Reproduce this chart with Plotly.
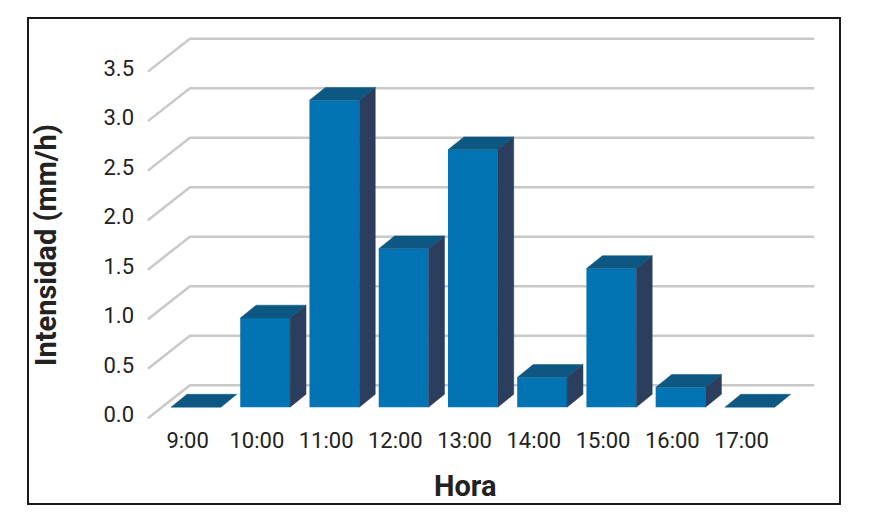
import plotly.graph_objects as go

# ---------------- data ----------------
HOURS = ["9:00", "10:00", "11:00", "12:00", "13:00", "14:00", "15:00", "16:00", "17:00"]
INTENSITY = [0.0, 0.9, 3.1, 1.6, 2.6, 0.3, 1.4, 0.2, 0.0]
Y_TICKS = [0.0, 0.5, 1.0, 1.5, 2.0, 2.5, 3.0, 3.5]
Y_TICK_TEXT = ["0.0", "0.5", "1.0", "1.5", "2.0", "2.5", "3.0", "3.5"]
X_TITLE = "Hora"
Y_TITLE = "Intensidad (mm/h)"

# ---------------- style / pseudo-3D geometry (data units) ----------------
FRONT = "#0274B3"
TOP = "#0C5883"
SIDE = "#2C3E5D"
GRID = "#C9C9C9"
TEXT = "#222222"

BAR_W = 0.72          # bar front width (category units)
BAR_DX = 0.23         # bar depth offset along x
BAR_DY = 0.13         # bar depth offset along y
FLOOR_FRONT_X = -0.694
FLOOR_BACK_X = -0.087
WALL_RIGHT_X = 8.93
FLOOR_FRONT_DY = -0.111
WALL_DY = 0.222
X_LABEL_SHIFT = -0.12
Y_LABEL_SHIFT = -0.076

W, H = 870, 528
ML, MR, MT, MB = 135, 35, 25, 103
PW, PH = W - ML - MR, H - MT - MB


def paper_x(px):
    return (px - ML) / PW


def paper_y(py):
    return (H - MB - py) / PH


idx = list(range(len(HOURS)))

fig = go.Figure()

# front faces
fig.add_trace(go.Bar(x=idx, y=INTENSITY, width=BAR_W, marker=dict(color=FRONT, line=dict(width=0)),
                     hoverinfo="skip", showlegend=False))

# top faces
tx, ty = [], []
for i, v in zip(idx, INTENSITY):
    x0, x1 = i - BAR_W / 2, i + BAR_W / 2
    tx += [x0, x1, x1 + BAR_DX, x0 + BAR_DX, x0, None]
    ty += [v, v, v + BAR_DY, v + BAR_DY, v, None]
fig.add_trace(go.Scatter(x=tx, y=ty, mode="lines", fill="toself", fillcolor=TOP,
                         line=dict(color=TOP, width=0.5), hoverinfo="skip", showlegend=False))

# side faces
sx, sy = [], []
for i, v in zip(idx, INTENSITY):
    if v <= 0:
        continue
    x1 = i + BAR_W / 2
    sx += [x1, x1, x1 + BAR_DX, x1 + BAR_DX, x1, None]
    sy += [0, v, v + BAR_DY, BAR_DY, 0, None]
fig.add_trace(go.Scatter(x=sx, y=sy, mode="lines", fill="toself", fillcolor=SIDE,
                         line=dict(color=SIDE, width=0.5), hoverinfo="skip", showlegend=False))

# back-wall gridlines with floor diagonals
for g in Y_TICKS:
    path = (f"M {FLOOR_FRONT_X},{g + FLOOR_FRONT_DY} L {FLOOR_BACK_X},{g + WALL_DY} "
            f"L {WALL_RIGHT_X},{g + WALL_DY}")
    fig.add_shape(type="path", path=path, xref="x", yref="y", layer="below",
                  line=dict(color=GRID, width=2.5))

# outer frame
fig.add_shape(type="rect", xref="paper", yref="paper",
              x0=paper_x(28), x1=paper_x(840), y0=paper_y(504), y1=paper_y(18),
              line=dict(color="#1A1A1A", width=2), layer="above")

# axis titles
fig.add_annotation(text=f"<b>{Y_TITLE}</b>", xref="paper", yref="paper",
                   x=paper_x(46), y=paper_y(245), xanchor="center", yanchor="middle",
                   textangle=-90, showarrow=False,
                   font=dict(family="Roboto", size=29, color=TEXT))
fig.add_annotation(text=f"<b>{X_TITLE}</b>", xref="paper", yref="paper",
                   x=paper_x(465), y=paper_y(486), xanchor="center", yanchor="middle",
                   showarrow=False,
                   font=dict(family="Roboto", size=29, color=TEXT))

fig.update_layout(
    width=W, height=H,
    margin=dict(l=ML, r=MR, t=MT, b=MB),
    paper_bgcolor="white", plot_bgcolor="white",
    showlegend=False,
    xaxis=dict(range=[-0.88, 9.23], showgrid=False, zeroline=False, showline=False,
               tickmode="array", tickvals=[i + X_LABEL_SHIFT for i in idx], ticktext=HOURS,
               ticks="", tickfont=dict(family="Roboto", size=22, color=TEXT), fixedrange=True),
    yaxis=dict(range=[-0.18, 3.86], showgrid=False, zeroline=False, showline=False,
               tickmode="array", tickvals=[t + Y_LABEL_SHIFT for t in Y_TICKS], ticktext=Y_TICK_TEXT,
               ticks="", tickfont=dict(family="Roboto", size=22, color=TEXT), fixedrange=True),
)

fig.write_html("out.html", config={"displayModeBar": False},
               post_script="document.body.style.margin='0';")
